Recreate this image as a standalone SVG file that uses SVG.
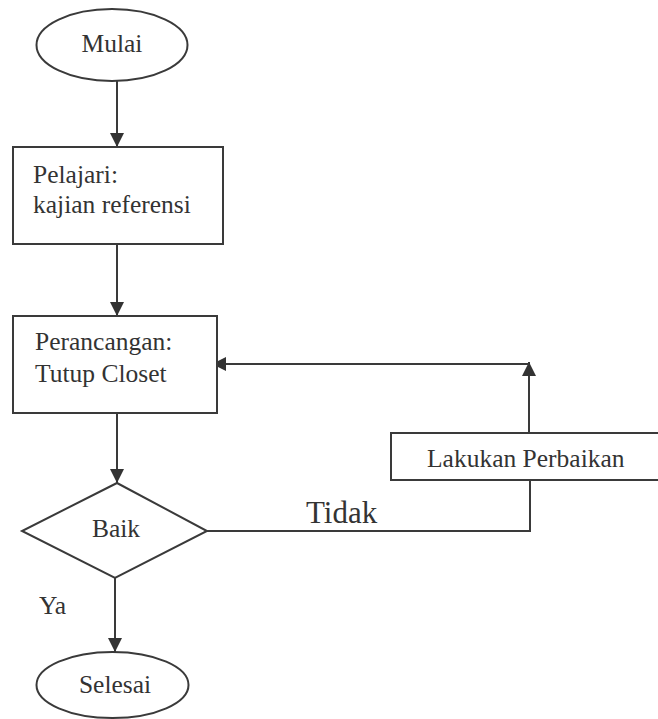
<svg xmlns="http://www.w3.org/2000/svg" width="658" height="719" viewBox="0 0 658 719">
<style>
.s{fill:#fff;stroke:#3a3a3a;stroke-width:2}
.t{font-family:"Liberation Serif","Times New Roman",serif;font-size:25.5px;fill:#333}
.c{fill:none;stroke:#3a3a3a;stroke-width:2}
</style>
<defs>
<marker id="ah" viewBox="0 0 14 14" refX="14" refY="7" markerWidth="14" markerHeight="14" markerUnits="userSpaceOnUse" orient="auto">
<path d="M0,0 L14,7 L0,14 Z" fill="#333"/>
</marker>
</defs>
<rect width="658" height="719" fill="#fff"/>
<g id="connectors">
<line class="c" x1="117" y1="81" x2="117" y2="147" marker-end="url(#ah)"/>
<line class="c" x1="117" y1="244" x2="117" y2="316" marker-end="url(#ah)"/>
<line class="c" x1="117" y1="413" x2="117" y2="483" marker-end="url(#ah)"/>
<line class="c" x1="115" y1="578" x2="115" y2="652" marker-end="url(#ah)"/>
<polyline class="c" points="207,531 530,531 530,480"/>
<line class="c" x1="529" y1="433" x2="529" y2="362" marker-end="url(#ah)"/>
<line class="c" x1="529" y1="364" x2="212" y2="364" marker-end="url(#ah)"/>
<text class="t" x="306" y="523" style="font-size:31px">Tidak</text>
<text class="t" x="39" y="614">Ya</text>
</g>
<g id="mulai">
<ellipse class="s" cx="112" cy="45" rx="75.5" ry="36"/>
<text class="t" x="112" y="52" text-anchor="middle">Mulai</text>
</g>
<g id="pelajari">
<rect class="s" x="13" y="147" width="210" height="97"/>
<text class="t" x="33" y="183">Pelajari:</text>
<text class="t" x="33" y="213">kajian referensi</text>
</g>
<g id="perancangan">
<rect class="s" x="13" y="316" width="204" height="97"/>
<text class="t" x="35" y="350">Perancangan:</text>
<text class="t" x="35" y="382">Tutup Closet</text>
</g>
<g id="baik">
<polygon class="s" points="117,483 207,531 115,578 22,531"/>
<text class="t" x="116" y="537" text-anchor="middle">Baik</text>
</g>
<g id="lakukan">
<rect class="s" x="391" y="433" width="272" height="47"/>
<text class="t" x="427" y="467">Lakukan Perbaikan</text>
</g>
<g id="selesai">
<ellipse class="s" cx="112.5" cy="685" rx="76" ry="33"/>
<text class="t" x="115" y="693" text-anchor="middle">Selesai</text>
</g>
</svg>
